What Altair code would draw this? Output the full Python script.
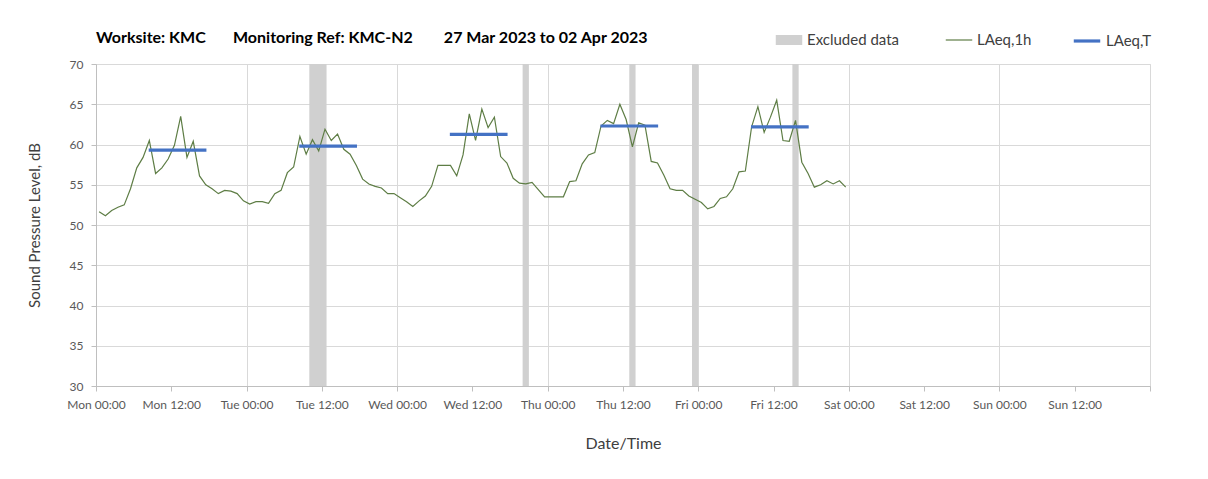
import altair as alt
import pandas as pd

# ---------------- data ----------------
day_names = ["Mon", "Tue", "Wed", "Thu", "Fri", "Sat", "Sun"]

# hourly LAeq,1h values (dB), first value for the hour starting Mon 00:00
laeq_1h = [
    51.65, 51.15, 51.8, 52.2, 52.5, 54.5, 57.1, 58.4, 60.5, 56.4, 57.1, 58.2,
    59.9, 63.5, 58.4, 60.4, 56.1, 55.0, 54.5, 53.9, 54.3, 54.2, 53.9, 53.0,
    52.6, 52.9, 52.9, 52.7, 53.9, 54.3, 56.5, 57.2, 61.0, 58.8, 60.6, 59.2,
    61.9, 60.5, 61.3, 59.4, 58.8, 57.4, 55.7, 55.1, 54.8, 54.6, 53.9, 53.9,
    53.4, 52.9, 52.3, 53.0, 53.6, 54.8, 57.4, 57.4, 57.4, 56.1, 58.7, 63.8,
    60.5, 64.4, 62.1, 63.4, 58.5, 57.7, 55.8, 55.2, 55.1, 55.3, 54.4, 53.5,
    53.5, 53.5, 53.5, 55.4, 55.5, 57.6, 58.7, 59.0, 62.3, 63.0, 62.6, 65.0,
    63.1, 59.7, 62.7, 62.4, 57.9, 57.7, 56.2, 54.5, 54.3, 54.3, 53.6, 53.2,
    52.8, 52.0, 52.3, 53.3, 53.5, 54.5, 56.6, 56.7, 62.2, 64.7, 61.5, 63.4,
    65.5, 60.5, 60.4, 63.0, 57.8, 56.4, 54.7, 55.0, 55.5, 55.1, 55.5, 54.7,
]
hour_mid = 0.5  # values plotted at the middle of each hour

# LAeq,T per day (hours from Mon 00:00)
laeqT_day = ["Mon", "Tue", "Wed", "Thu", "Fri"]
laeqT_value = [59.3, 59.8, 61.25, 62.3, 62.2]
laeqT_start = [8.4, 32.4, 56.4, 80.4, 104.4]
laeqT_end = [17.6, 41.6, 65.6, 89.6, 113.6]

# excluded data periods (hours from Mon 00:00)
excl_start = [34.0, 68.0, 85.0, 95.0, 111.0]
excl_end = [36.75, 69.0, 86.0, 96.0, 112.0]

EXCL_NAME, H1_NAME, T_NAME = "Excluded data", "LAeq,1h", "LAeq,T"
EXCL_COLOR, H1_COLOR, T_COLOR = "#d0d0d0", "#5e7d45", "#4472c4"

TITLE_PARTS = ["Worksite: KMC", "Monitoring Ref: KMC-N2", "27 Mar 2023 to 02 Apr 2023"]

# ---------------- tables ----------------
df_1h = pd.DataFrame({
    "hour": [i + hour_mid for i in range(len(laeq_1h))],
    "value": laeq_1h,
    "series": H1_NAME,
})
rows = []
for d, v, s, e in zip(laeqT_day, laeqT_value, laeqT_start, laeqT_end):
    rows.append({"hour": s, "value": v, "series": T_NAME, "day": d})
    rows.append({"hour": e, "value": v, "series": T_NAME, "day": d})
df_T = pd.DataFrame(rows)
df_ex = pd.DataFrame({"start": excl_start, "end": excl_end, "series": EXCL_NAME})

FONT = "Lato"
LABEL_COLOR = "#595959"
GRID = "#d9d9d9"

label_expr = (
    "datum.value >= 168 ? '' : "
    "[" + ",".join("'%s'" % d for d in day_names) + "][floor(datum.value / 24)]"
    " + (datum.value % 24 === 0 ? ' 00:00' : ' 12:00')"
)

x_scale = alt.Scale(domain=[0, 168], nice=False, zero=False)
x_axis = alt.Axis(
    values=list(range(0, 169, 12)),
    labelExpr=label_expr,
    title="Date/Time",
    grid=True,
    gridColor=GRID,
    gridOpacity={"condition": {"test": "datum.value % 24 === 0", "value": 1}, "value": 0},
    domainColor="#bfbfbf",
    tickColor="#bfbfbf",
    tickSize=5,
    labelFont=FONT,
    labelFontSize=12,
    labelColor=LABEL_COLOR,
    labelPadding=8,
    labelFlush=False,
    labelOverlap=False,
    titleFont=FONT,
    titleFontSize=16,
    titleFontWeight="normal",
    titleColor="#404040",
    titlePadding=25,
)
y_scale = alt.Scale(domain=[30, 70], nice=False, zero=False)
y_axis = alt.Axis(
    values=list(range(30, 71, 5)),
    title="Sound Pressure Level, dB",
    grid=True,
    gridColor=GRID,
    domainColor="#bfbfbf",
    tickColor="#bfbfbf",
    tickSize=5,
    labelFont=FONT,
    labelFontSize=12,
    labelColor=LABEL_COLOR,
    labelPadding=8,
    titleFont=FONT,
    titleFontSize=15,
    titleFontWeight="normal",
    titleColor="#404040",
    titlePadding=27,
)


def make_legend(x, symbol_type, stroke_width=None):
    kw = dict(
        title=None,
        orient="none",
        legendX=x,
        legendY=-38,
        direction="horizontal",
        symbolType=symbol_type,
        symbolSize=700,
        labelFont=FONT,
        labelFontSize=15,
        labelColor="#404040",
        labelOffset=4,
    )
    if stroke_width is not None:
        kw["symbolStrokeWidth"] = stroke_width
    return alt.Legend(**kw)


excluded = alt.Chart(df_ex).mark_rect().encode(
    x=alt.X("start:Q", scale=x_scale, axis=x_axis),
    x2="end:Q",
    fill=alt.Fill(
        "series:N",
        scale=alt.Scale(domain=[EXCL_NAME], range=[EXCL_COLOR]),
        legend=make_legend(679, "M-1,-0.38H1V0.38H-1Z"),
    ),
)

line_1h = alt.Chart(df_1h).mark_line(strokeWidth=1.2).encode(
    x=alt.X("hour:Q", scale=x_scale, axis=x_axis),
    y=alt.Y("value:Q", scale=y_scale, axis=y_axis),
    stroke=alt.Stroke(
        "series:N",
        scale=alt.Scale(domain=[H1_NAME], range=[H1_COLOR]),
        legend=make_legend(849, "stroke", 1.2),
    ),
)

line_T = alt.Chart(df_T).mark_line(strokeWidth=3.2).encode(
    x=alt.X("hour:Q", scale=x_scale, axis=x_axis),
    y=alt.Y("value:Q", scale=y_scale, axis=y_axis),
    color=alt.Color(
        "series:N",
        scale=alt.Scale(domain=[T_NAME], range=[T_COLOR]),
        legend=make_legend(976, "stroke", 3.2),
    ),
    detail="day:N",
)

nb = "\u00a0"
title_text = TITLE_PARTS[0] + nb * 6 + " " + TITLE_PARTS[1] + nb * 7 + " " + TITLE_PARTS[2]

chart = alt.layer(excluded, line_1h, line_T).properties(
    width=1054,
    height=322,
    autosize=alt.AutoSizeParams(type="none"),
    padding={"left": 88, "top": 56, "right": 50, "bottom": 85},
    title=alt.TitleParams(
        text=title_text,
        anchor="start",
        frame="group",
        font=FONT,
        fontSize=16,
        fontWeight="bold",
        color="#000000",
        offset=-20,
    ),
).configure_view(stroke=None).configure(background="white")

chart.save("out.html", embed_options={"renderer": "svg", "actions": False})
